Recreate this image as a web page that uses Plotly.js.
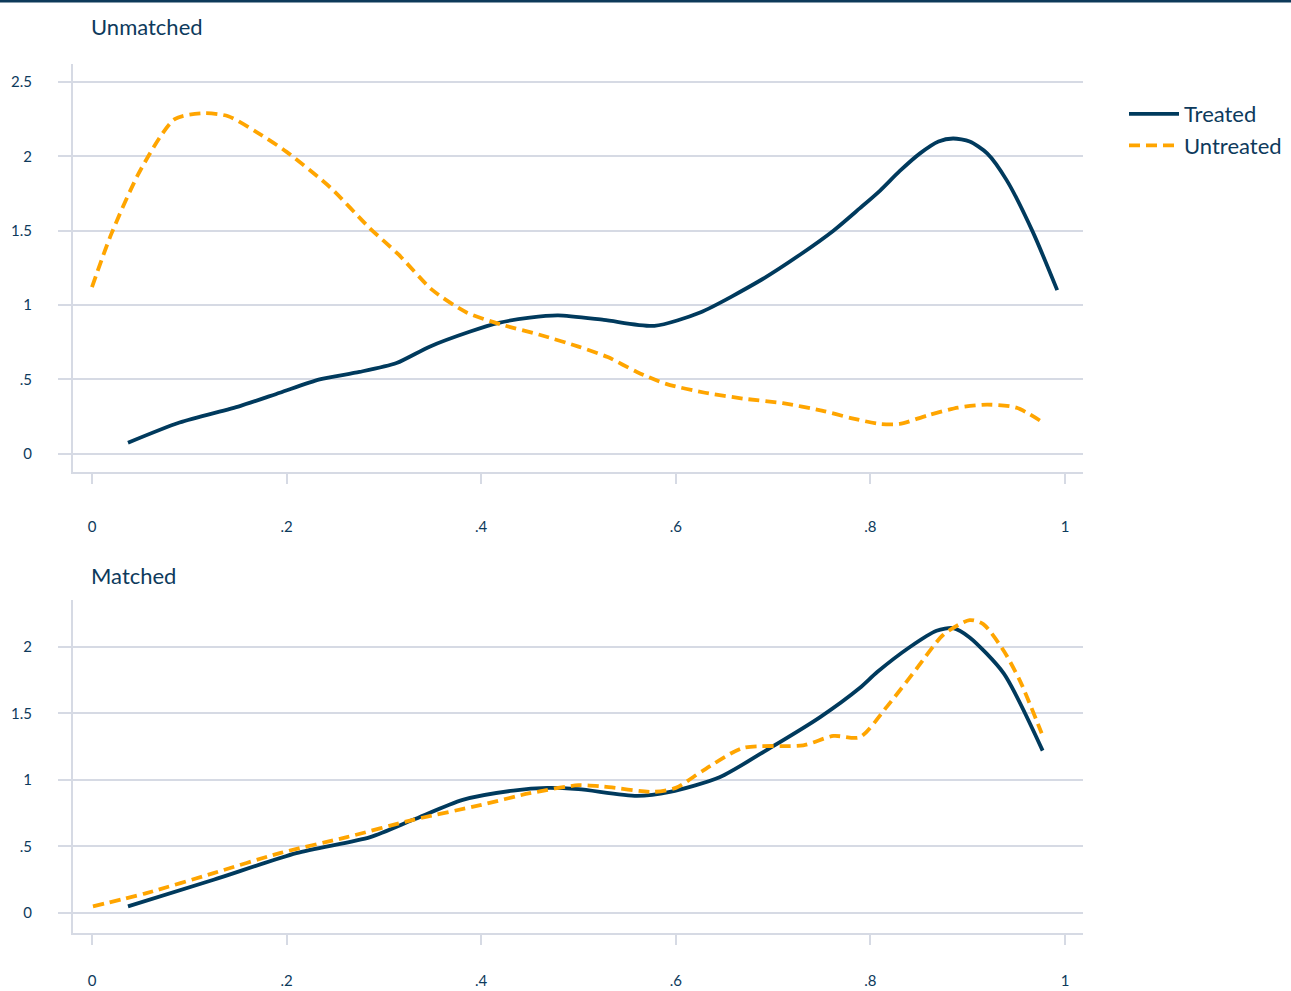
<!DOCTYPE html>
<html>
<head>
<meta charset="utf-8">
<script src="https://cdn.plot.ly/plotly-3.0.1.min.js"></script>
<style>
html,body{margin:0;padding:0;background:#fff;}
#chart{width:1291px;height:991px;}
</style>
</head>
<body>
<div id="chart"></div>
<script>
// ---------- data ----------
var unmatchedTreatedX = [0.037, 0.09, 0.152, 0.193, 0.234, 0.275, 0.313, 0.347, 0.388, 0.418, 0.45, 0.479, 0.526, 0.578, 0.625, 0.688, 0.728, 0.762, 0.789, 0.81, 0.83, 0.851, 0.87, 0.885, 0.902, 0.92, 0.94, 0.967, 0.992];
var unmatchedTreatedY = [0.074, 0.21, 0.32, 0.41, 0.50, 0.55, 0.61, 0.72, 0.82, 0.88, 0.915, 0.93, 0.90, 0.86, 0.95, 1.17, 1.34, 1.50, 1.65, 1.77, 1.90, 2.02, 2.10, 2.12, 2.10, 2.02, 1.84, 1.49, 1.10];

var unmatchedUntreatedX = [0.0, 0.02, 0.05, 0.085, 0.115, 0.14, 0.17, 0.2, 0.245, 0.285, 0.315, 0.35, 0.385, 0.42, 0.46, 0.5, 0.53, 0.56, 0.59, 0.63, 0.67, 0.71, 0.75, 0.78, 0.81, 0.83, 0.86, 0.89, 0.92, 0.95, 0.975];
var unmatchedUntreatedY = [1.12, 1.48, 1.91, 2.25, 2.29, 2.27, 2.16, 2.03, 1.79, 1.52, 1.34, 1.10, 0.95, 0.87, 0.80, 0.72, 0.65, 0.55, 0.47, 0.41, 0.37, 0.34, 0.29, 0.24, 0.20, 0.20, 0.26, 0.31, 0.33, 0.31, 0.22];

var matchedTreatedX = [0.037, 0.125, 0.21, 0.286, 0.33, 0.381, 0.433, 0.468, 0.50, 0.56, 0.594, 0.645, 0.697, 0.748, 0.789, 0.807, 0.841, 0.868, 0.885, 0.902, 0.937, 0.977];
var matchedTreatedY = [0.05, 0.25, 0.45, 0.57, 0.70, 0.85, 0.92, 0.94, 0.93, 0.88, 0.91, 1.02, 1.24, 1.47, 1.69, 1.81, 2.00, 2.12, 2.14, 2.07, 1.80, 1.22];

var matchedUntreatedX = [0.001, 0.056, 0.125, 0.193, 0.262, 0.33, 0.399, 0.45, 0.50, 0.525, 0.577, 0.60, 0.628, 0.669, 0.731, 0.762, 0.789, 0.817, 0.848, 0.875, 0.902, 0.916, 0.937, 0.954, 0.976];
var matchedUntreatedY = [0.05, 0.15, 0.30, 0.45, 0.57, 0.70, 0.81, 0.90, 0.96, 0.95, 0.91, 0.94, 1.07, 1.24, 1.26, 1.33, 1.32, 1.55, 1.84, 2.09, 2.20, 2.17, 1.97, 1.74, 1.35];

var xTickVals = [0, 0.2, 0.4, 0.6, 0.8, 1];
var xTickText = ["0", ".2", ".4", ".6", ".8", "1"];
var yTopTickVals = [0, 0.5, 1, 1.5, 2, 2.5];
var yTopTickText = ["0", ".5", "1", "1.5", "2", "2.5"];
var yBotTickVals = [0, 0.5, 1, 1.5, 2];
var yBotTickText = ["0", ".5", "1", "1.5", "2"];
var seriesNames = ["Treated", "Untreated"];
var panelTitles = ["Unmatched", "Matched"];

// ---------- style ----------
var NAVY = "#003a5d";
var ORANGE = "#ffa500";
var GRID = "#d6dae4";
var TXT = "#0d3a5c";
var FONT = "Lato, 'Open Sans', sans-serif";
var W = 1291, H = 991;

function lineTrace(x, y, name, color, dash, xa, ya, show) {
  return {
    x: x, y: y, name: name, type: "scatter", mode: "lines",
    xaxis: xa, yaxis: ya, showlegend: show, hoverinfo: "skip",
    line: {color: color, width: 3.8, dash: dash, shape: "spline", smoothing: 0.7}
  };
}

var traces = [
  lineTrace(unmatchedTreatedX, unmatchedTreatedY, seriesNames[0], NAVY, "solid", "x", "y", true),
  lineTrace(unmatchedUntreatedX, unmatchedUntreatedY, seriesNames[1], ORANGE, "11px,6px", "x", "y", true),
  lineTrace(matchedTreatedX, matchedTreatedY, seriesNames[0], NAVY, "solid", "x2", "y2", false),
  lineTrace(matchedUntreatedX, matchedUntreatedY, seriesNames[1], ORANGE, "11px,6px", "x2", "y2", false)
];

var xDomain = [73 / W, 1083 / W];
var xRange = [-0.0195, 1.0185];

function xAxis(anchor, standoff) {
  return {
    domain: xDomain, range: xRange, anchor: anchor,
    showgrid: false, zeroline: false, showline: true, linecolor: GRID, linewidth: 2,
    ticks: "outside", ticklen: 10, tickwidth: 2, tickcolor: GRID,
    tickvals: xTickVals, ticktext: xTickText, ticklabelstandoff: standoff,
    tickfont: {family: FONT, size: 15, color: TXT}, automargin: false, fixedrange: true
  };
}
function yAxis(anchor, domain, range, vals, text) {
  return {
    domain: domain, range: range, anchor: anchor,
    showgrid: true, gridcolor: GRID, gridwidth: 2, zeroline: false,
    showline: true, linecolor: GRID, linewidth: 2,
    ticks: "outside", ticklen: 13, tickwidth: 2, tickcolor: GRID,
    tickvals: vals, ticktext: text, ticklabelstandoff: 23,
    tickfont: {family: FONT, size: 15, color: TXT}, automargin: false, fixedrange: true
  };
}

var layout = {
  width: W, height: H,
  margin: {l: 0, r: 0, t: 0, b: 0},
  paper_bgcolor: "#fff", plot_bgcolor: "#fff",
  font: {family: FONT, color: TXT},
  xaxis: xAxis("y", 30),
  yaxis: yAxis("x", [1 - 472 / H, 1 - 64 / H], [-0.123, 2.621], yTopTickVals, yTopTickText),
  xaxis2: xAxis("y2", 23),
  yaxis2: yAxis("x2", [1 - 933 / H, 1 - 600 / H], [-0.150, 2.351], yBotTickVals, yBotTickText),
  showlegend: true,
  legend: {
    x: 1124 / W, y: 1 - 93 / H, xanchor: "left", yanchor: "top",
    font: {family: FONT, size: 22, color: TXT},
    itemwidth: 50, bgcolor: "rgba(0,0,0,0)", tracegroupgap: 0
  },
  annotations: [
    {text: panelTitles[0], xref: "paper", yref: "paper", x: 89 / W, y: 1 - 26 / H,
     xanchor: "left", yanchor: "middle", showarrow: false,
     font: {family: FONT, size: 22, color: TXT}},
    {text: panelTitles[1], xref: "paper", yref: "paper", x: 89 / W, y: 1 - 575 / H,
     xanchor: "left", yanchor: "middle", showarrow: false,
     font: {family: FONT, size: 22, color: TXT}}
  ],
  shapes: [
    {type: "rect", xref: "paper", yref: "paper", x0: 0, x1: 1, y0: 1 - 2.5 / H, y1: 1,
     fillcolor: "#0e3a5a", line: {width: 0}}
  ]
};

Plotly.newPlot("chart", traces, layout, {displayModeBar: false, staticPlot: true});
</script>
</body>
</html>
